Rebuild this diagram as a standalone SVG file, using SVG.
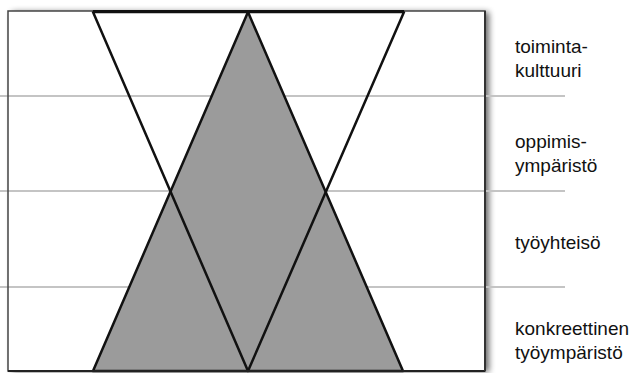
<svg xmlns="http://www.w3.org/2000/svg" width="632" height="373" viewBox="0 0 632 373">
  <defs>
    <filter id="shadow" x="-5%" y="-5%" width="115%" height="115%">
      <feGaussianBlur in="SourceAlpha" stdDeviation="3"/>
      <feOffset dx="4" dy="1" result="b"/>
      <feComponentTransfer><feFuncA type="linear" slope="0.6"/></feComponentTransfer>
      <feMerge><feMergeNode/><feMergeNode in="SourceGraphic"/></feMerge>
    </filter>
    <filter id="blur" x="-10%" y="-200%" width="120%" height="500%">
      <feGaussianBlur stdDeviation="3"/>
    </filter>
  </defs>
  <style>
    .level { stroke: #c4c4c4; stroke-width: 2; fill: none; }
    .lshadow { stroke: #d8d8d8; stroke-width: 4; fill: none; }
    .tri { stroke: #111; stroke-width: 2.5; stroke-linejoin: round; }
    .label { font-family: "Liberation Sans", Arial, sans-serif; font-size: 19px; fill: #111; }
  </style>
  <rect width="632" height="373" fill="#fff"/>
  <g id="frame">
    <rect x="8" y="11" width="477" height="360" fill="#fff" filter="url(#shadow)"/>
  </g>
  <g id="connectors">
    <line class="lshadow" x1="490" y1="101" x2="565" y2="101" filter="url(#blur)"/>
    <line class="lshadow" x1="490" y1="196" x2="565" y2="196" filter="url(#blur)"/>
    <line class="lshadow" x1="490" y1="292" x2="565" y2="292" filter="url(#blur)"/>
    <line class="level" x1="0" y1="96" x2="565" y2="96"/>
    <line class="level" x1="0" y1="191" x2="565" y2="191"/>
    <line class="level" x1="0" y1="287" x2="565" y2="287"/>
  </g>
  <g id="gray-triangle">
    <polygon class="tri" points="248,12 93,371 403,371" fill="#9b9b9b"/>
  </g>
  <g id="white-triangle">
    <polygon class="tri" points="93,12 404,12 248,371" fill="none"/>
  </g>
  <g id="frame-border">
    <rect x="8" y="11" width="477" height="360" fill="none" stroke="#444" stroke-width="1.5"/>
    <line x1="8" y1="371" x2="485" y2="371" stroke="#222" stroke-width="2"/>
    <line x1="485" y1="11" x2="485" y2="371" stroke="#333" stroke-width="2"/>
    <line x1="93" y1="11.5" x2="404" y2="11.5" stroke="#111" stroke-width="3"/>
  </g>
  <g id="label-toimintakulttuuri">
    <text class="label" x="515" y="53">toiminta-</text>
    <text class="label" x="515" y="76.5">kulttuuri</text>
  </g>
  <g id="label-oppimisymparisto">
    <text class="label" x="515" y="148">oppimis-</text>
    <text class="label" x="515" y="171.5">ympäristö</text>
  </g>
  <g id="label-tyoyhteiso">
    <text class="label" x="515" y="249">työyhteisö</text>
  </g>
  <g id="label-konkreettinen">
    <text class="label" x="515" y="335">konkreettinen</text>
    <text class="label" x="515" y="358.5">työympäristö</text>
  </g>
</svg>
